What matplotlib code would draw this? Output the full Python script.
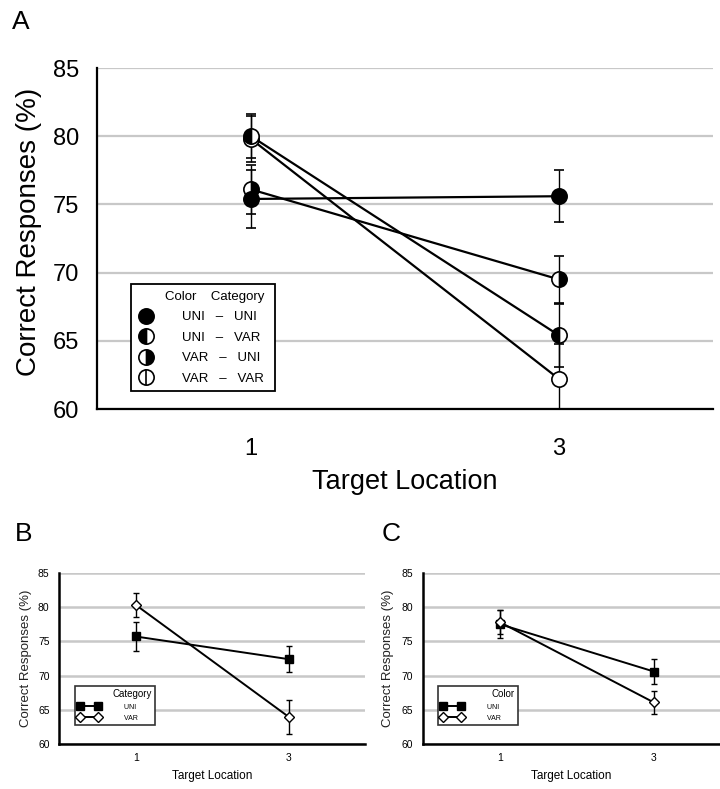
import matplotlib.pyplot as plt
from matplotlib.lines import Line2D

plt.rcParams['font.family'] = ['Liberation Sans', 'DejaVu Sans']

# target locations (x categories)
locations = ['1', '3']

# panel A: color - category conditions
uni_uni = [75.4, 75.6]
uni_uni_err = [2.1, 1.9]
uni_var = [80.0, 65.4]
uni_var_err = [1.6, 2.3]
var_uni = [76.1, 69.5]
var_uni_err = [1.8, 1.7]
var_var = [79.8, 62.2]
var_var_err = [1.7, 2.6]

# panel B: category
cat_uni = [75.7, 72.4]
cat_uni_err = [2.1, 1.9]
cat_var = [80.3, 64.0]
cat_var_err = [1.7, 2.45]

# panel C: color
col_uni = [77.5, 70.6]
col_uni_err = [2.0, 1.8]
col_var = [77.8, 66.1]
col_var_err = [1.8, 1.7]

yticks = [60, 65, 70, 75, 80, 85]
GRID = '#c8c8c8'

fig = plt.figure(figsize=(7.2, 7.89), dpi=100)


def style_axes(ax, xlim, tick_size, xpad, ypad, spine_w):
    ax.set_ylim(60, 85)
    ax.set_xlim(*xlim)
    ax.set_yticks(yticks)
    ax.set_xticks(range(len(locations)))
    ax.set_xticklabels(locations)
    ax.tick_params(axis='both', length=0, labelsize=tick_size)
    ax.tick_params(axis='x', pad=xpad)
    ax.tick_params(axis='y', pad=ypad)
    ax.yaxis.grid(True, color=GRID, linewidth=spine_w)
    ax.set_axisbelow(True)
    for s in ['top', 'right']:
        ax.spines[s].set_visible(False)
    for s in ['left', 'bottom']:
        ax.spines[s].set_linewidth(spine_w)
        ax.spines[s].set_zorder(5)


# ---------------- panel A ----------------
axA = fig.add_axes([0.1347, 0.4816, 0.8556, 0.4322])
x = list(range(len(locations)))
kw = dict(color='black', ecolor='black', elinewidth=1.0, capsize=3.5, capthick=1.0,
          lw=1.6, marker='o', ms=11, mec='black', mew=1.2)
axA.errorbar(x, var_var, yerr=var_var_err, mfc='white', **kw)
axA.plot(x, var_var, ls='none', marker='|', ms=11, mew=1.2, color='black')
axA.errorbar(x, uni_var, yerr=uni_var_err, fillstyle='left', mfc='black',
             markerfacecoloralt='white', **kw)
axA.errorbar(x, var_uni, yerr=var_uni_err, fillstyle='right', mfc='black',
             markerfacecoloralt='white', **kw)
axA.errorbar(x, uni_uni, yerr=uni_uni_err, mfc='black', **kw)

style_axes(axA, (-0.5, 1.5), 17, 21, 13, 1.6)
axA.set_ylabel('Correct Responses (%)', fontsize=20)
axA.yaxis.set_label_coords(-0.089, 0.52)
axA.set_xlabel('Target Location', fontsize=19.5)
axA.xaxis.set_label_coords(0.5, -0.175)

hA = [
    Line2D([], [], ls='none', marker='o', ms=11, mfc='black', mec='black', mew=1.2),
    Line2D([], [], ls='none', marker='o', ms=11, fillstyle='left', mfc='black',
           markerfacecoloralt='white', mec='black', mew=1.2),
    Line2D([], [], ls='none', marker='o', ms=11, fillstyle='right', mfc='black',
           markerfacecoloralt='white', mec='black', mew=1.2),
    (Line2D([], [], ls='none', marker='o', ms=11, mfc='white', mec='black', mew=1.2),
     Line2D([], [], ls='none', marker='|', ms=11, color='black', mew=1.2)),
]
labA = ['UNI   –   UNI ', 'UNI   –   VAR ', 'VAR   –   UNI ', 'VAR   –   VAR ']
legA = axA.legend(hA, labA, title='Color    Category ', loc='upper left',
                  bbox_to_anchor=(0.0552, 0.3657), borderaxespad=0, fontsize=9.5,
                  title_fontsize=9.5, frameon=True, fancybox=False, framealpha=1,
                  edgecolor='black', handlelength=1.2, handletextpad=2.2,
                  labelspacing=0.62, borderpad=0.5, alignment='right')
legA.get_frame().set_linewidth(1.3)

# ---------------- panel B / C ----------------
small_kw = dict(color='black', ecolor='black', elinewidth=1.0, capsize=2.2, capthick=1.0,
                lw=1.4, mec='black', mew=1.0)


def small_panel(rect, xlim, uni, uni_err, var, var_err, title):
    ax = fig.add_axes(rect)
    ax.errorbar(x, uni, yerr=uni_err, marker='s', ms=5.5, mfc='black', **small_kw)
    ax.errorbar(x, var, yerr=var_err, marker='D', ms=5.5, mfc='white', **small_kw)
    style_axes(ax, xlim, 7.5, 6, 7, 1.8)
    ax.set_ylabel('Correct Responses (%)', fontsize=9.5, color='#222222')
    ax.set_xlabel('Target Location', fontsize=8.5)
    ax.xaxis.set_label_coords(0.5, -0.15)
    h = [Line2D([], [], color='black', lw=1.4, marker='s', ms=5.5, mfc='black', mec='black'),
         Line2D([], [], color='black', lw=1.4, marker='D', ms=5.5, mfc='white', mec='black')]
    leg = ax.legend(h, ['UNI       ', 'VAR       '], title=title, loc='upper left',
                    numpoints=2, bbox_to_anchor=(0.052, 0.338), borderaxespad=0,
                    fontsize=5, title_fontsize=7, frameon=True, fancybox=False,
                    framealpha=1, edgecolor='#333333', handlelength=3.2,
                    handletextpad=3.4, labelspacing=0.6, borderpad=0.45,
                    alignment='right')
    leg.get_frame().set_linewidth(1.2)
    return ax


axB = small_panel([0.0824, 0.0567, 0.4246, 0.2175], (-0.5, 1.5),
                  cat_uni, cat_uni_err, cat_var, cat_var_err, 'Category')
axB.yaxis.set_label_coords(-0.089, 0.503)
axC = small_panel([0.5871, 0.0567, 0.4129, 0.2175], (-0.5, 1.43),
                  col_uni, col_uni_err, col_var, col_var_err, 'Color')
axC.yaxis.set_label_coords(-0.0965, 0.503)

fig.text(0.017, 0.972, 'A', fontsize=19, va='center', ha='left')
fig.text(0.021, 0.3232, 'B', fontsize=19, va='center', ha='left')
fig.text(0.5306, 0.3232, 'C', fontsize=19, va='center', ha='left')

fig.savefig('out.png', dpi=100)
